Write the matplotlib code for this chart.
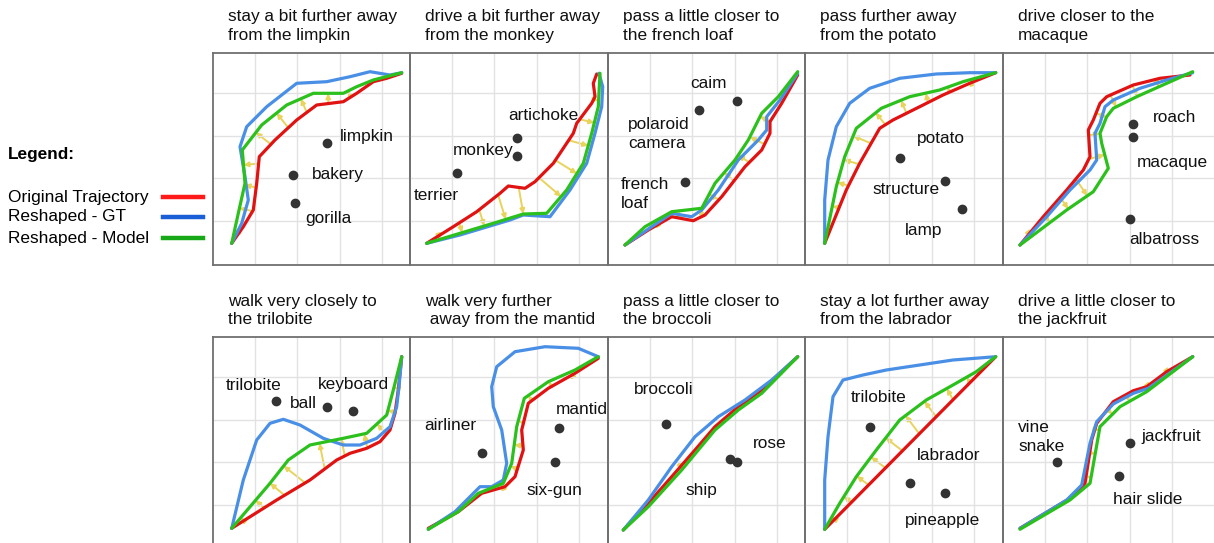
import numpy as np
import matplotlib.pyplot as plt
from matplotlib.lines import Line2D

plt.rcParams['font.family'] = ['Liberation Sans', 'DejaVu Sans']

# panel titles (row by row)
titles = [
    'stay a bit further away\nfrom the limpkin',
    'drive a bit further away\nfrom the monkey',
    'pass a little closer to\nthe french loaf',
    'pass further away\nfrom the potato',
    'drive closer to the\nmacaque',
    'walk very closely to\nthe trilobite',
    'walk very further\n away from the mantid',
    'pass a little closer to\nthe broccoli',
    'stay a lot further away\nfrom the labrador',
    'drive a little closer to\nthe jackfruit',
]

# trajectories, panel-local units (x right, y up)
red_paths = [
    [(18.7, 21.7), (30.3, 38.3), (40.3, 55), (43.7, 81.7), (46.3, 108.3), (62, 125), (83.7, 145),
     (103.7, 160), (130.3, 163.3), (143.7, 171.7), (160.3, 183.3), (173.7, 186.7), (188.7, 191.7)],
    [(16.7, 21.7), (43.3, 38.3), (66.7, 53.3), (90, 71.7), (98.3, 79), (115, 76.7), (125, 83.3),
     (143.3, 101.7), (163.3, 131.7), (166.7, 141.7), (181.7, 161.7), (185, 168.3), (183.3, 181.7), (186.7, 191)],
    [(17, 20), (40.3, 35), (63.7, 48.3), (85.3, 44.3), (97, 50), (113.7, 68.3), (137, 98.3),
     (153.7, 115), (162, 131.7), (162, 143.3), (173.7, 161.7), (189.7, 190)],
    [(19.7, 21.7), (41.3, 75), (54.7, 101.7), (74.7, 136.7), (88, 145), (114.7, 158.3), (138, 170),
     (164.7, 181.7), (190.7, 192.3)],
    [(17, 20), (40.3, 48.3), (63.7, 75), (80.3, 95), (87, 108.3), (85.3, 135), (90.3, 145), (97, 161.7),
     (103.7, 168.3), (130.3, 180), (157, 186.7), (187, 190)],
    [(18.7, 20.7), (63.7, 49), (97, 69), (123.7, 89), (137, 95.7), (153.7, 100.7), (167, 107.3),
     (177, 119), (182, 135.7), (185.3, 159), (188.7, 192.3)],
    [(18.3, 20.7), (48.3, 37.3), (71.7, 55.7), (95, 62.3), (105, 72.3), (113.3, 99), (111.7, 119),
     (118.3, 145.7), (138.3, 160.7), (165, 175.7), (188.3, 190.7)],
    [(15.3, 19), (40.3, 45.7), (63.7, 72.3), (87, 99), (107, 122.3), (130.3, 142.3), (153.7, 159), (189.7, 192.3)],
    [(19.7, 19.7), (190.7, 192.3)],
    [(17, 20.7), (67, 50.7), (82, 65.7), (88.7, 109), (93.7, 125.7), (110.3, 147.3), (130.3, 158.3),
     (143.7, 162.3), (163.7, 177.3), (189.7, 192.3)],
]

gt_paths = [
    [(18.7, 21.7), (28.7, 41.7), (35.3, 65), (32, 88.3), (27, 118.3), (33.7, 138.3), (53.7, 158.3),
     (83.7, 181.7), (113.7, 183.3), (137, 188.3), (157, 193.3), (177, 190), (188.7, 192.3)],
    [(16.7, 21.7), (50, 30), (100, 45), (113.3, 50), (140, 48.3), (160, 75), (176.7, 101.7), (185, 131.7),
     (191.7, 158.3), (192.7, 178.3), (189, 191.7)],
    [(17, 20), (43.7, 38.3), (63.7, 51.7), (83.7, 48.3), (93.7, 55), (110.3, 75), (130.3, 105), (150.3, 125),
     (158.7, 135), (158.7, 148.3), (172, 165), (189.7, 191.7)],
    [(19.7, 21.7), (19.7, 65), (23, 105), (31.3, 138.3), (44.7, 161.7), (64.7, 176.7), (94.7, 186.7),
     (131.3, 191), (164.7, 192.3), (190.7, 192.3)],
    [(17, 20), (43.7, 48.3), (67, 75), (87, 95), (93.7, 105), (92, 131.7), (97, 141.7), (102, 158.3),
     (110.3, 165), (137, 176.7), (163.7, 185), (189.7, 192.3)],
    [(18.7, 20.7), (30.3, 69), (43.7, 109), (57, 125.7), (70.3, 129.7), (87, 124), (110.3, 110.7),
     (130.3, 104), (147, 104), (163.7, 110.7), (177, 122.3), (183.7, 142.3), (186.3, 165.7), (188.7, 192.3)],
    [(18.3, 19.7), (45, 37.3), (70, 62.3), (81.7, 62.3), (93.3, 69), (96.7, 85.7), (91.7, 119), (83.3, 142.3),
     (81.7, 162.3), (86.7, 182.3), (105, 197.3), (135, 202.3), (168.3, 200.7), (188.3, 192.3)],
    [(15.3, 19), (40.3, 49), (63.7, 82.3), (87, 112.3), (110.3, 132.3), (137, 149), (163.7, 169), (189.7, 192.3)],
    [(19.7, 19.7), (19.7, 69), (23, 112.3), (28, 152.3), (38, 169), (58, 174), (81.3, 179), (114.7, 184),
     (148, 189), (190.7, 192.3)],
    [(17, 20.7), (63.7, 49), (78.7, 64), (87, 105.7), (93.7, 127.3), (110.3, 145), (130.3, 155.7),
     (145.3, 160.7), (189.7, 192.3)],
]

model_paths = [
    [(18.7, 21.7), (25.3, 51.7), (32, 81.7), (29.3, 115), (48.7, 140), (73.7, 160), (100.3, 171.7),
     (130.3, 171.7), (143.7, 178.3), (160.3, 185), (188.7, 192.3)],
    [(16.7, 21.7), (50, 31.7), (83.3, 41.7), (113.3, 51), (136.7, 51.7), (156.7, 75), (173.3, 101.7),
     (181.7, 131.7), (188.3, 158.3), (190, 191.7)],
    [(17, 20), (37, 38.3), (63.7, 53.3), (93.7, 56.7), (107, 81.7), (127, 105), (140.3, 125), (153.7, 151.7),
     (170.3, 168.3), (189.7, 193.3)],
    [(19.7, 21.7), (31.3, 78.3), (39.7, 108.3), (51.3, 136.7), (76.3, 156.7), (104.7, 168.3), (134.7, 175),
     (158, 183.3), (190.7, 192.3)],
    [(17, 20), (63.7, 55), (90.3, 73.3), (105.3, 96.7), (98.7, 121.7), (97, 131.7), (103.7, 148.3),
     (110.3, 156.7), (133.7, 168.3), (163.7, 181.7), (189.7, 193.3)],
    [(18.7, 20.7), (57, 65.7), (75.3, 89), (97, 104), (130.3, 110.7), (153.7, 115.7), (173.7, 134),
     (180.3, 159), (188.7, 192.3)],
    [(18.3, 19.7), (48.3, 37.3), (68.3, 55.7), (93.3, 65.7), (101.7, 85.7), (106.7, 122.3), (114.3, 150.7),
     (138.3, 167.3), (165, 179), (188.3, 192.3)],
    [(15.3, 19), (40.3, 42.3), (73.7, 79), (90.3, 99), (107, 119), (130.3, 139), (153.7, 155.7), (189.7, 192.3)],
    [(19.7, 19.7), (34.7, 45.7), (51.3, 72.3), (71.3, 99), (94.7, 129), (121.3, 149), (148, 164),
     (171.3, 177.3), (190.7, 192.3)],
    [(17, 19.7), (67, 49), (87, 65.7), (97, 122.3), (117, 142.3), (143.7, 157.3), (189.7, 192.3)],
]

# landmark objects (dots) and their names
landmarks = [
    [(113.7, 121.7), (80.3, 90), (82, 62.3)],
    [(46.7, 92.3), (106.7, 126.7), (106.7, 109)],
    [(91.3, 155), (128.7, 164), (77, 83.3)],
    [(95.3, 107.3), (140.3, 84), (157, 55.7)],
    [(129.7, 141), (129.7, 127.7), (127, 45.7)],
    [(62.7, 148.3), (113.7, 141.7), (140.3, 138.3)],
    [(71.7, 96.3), (149.3, 120.7), (145, 87.3)],
    [(58, 125), (122, 89.7), (129.3, 87.3)],
    [(64.7, 122.3), (105.3, 65.7), (140.3, 55.7)],
    [(53.7, 87.3), (127, 106.3), (116, 73)],
]

names = [
    ['limpkin', 'bakery', 'gorilla'],
    ['artichoke', 'monkey', 'terrier'],
    ['caim', 'polaroid\ncamera', 'french\nloaf'],
    ['potato', 'structure', 'lamp'],
    ['roach', 'macaque', 'albatross'],
    ['trilobite', 'ball', 'keyboard'],
    ['airliner', 'mantid', 'six-gun'],
    ['broccoli', 'rose', 'ship'],
    ['trilobite', 'labrador', 'pineapple'],
    ['vine\nsnake', 'jackfruit', 'hair slide'],
]

# where the names are written (left edge, vertical centre)
name_xy = [
    [(127, 128), (99, 91), (92, 46)],
    [(98, 149), (43, 114), (4, 69)],
    [(82, 182), (20, 131), (13, 71)],
    [(112, 127), (67, 75), (100, 35)],
    [(150, 148), (134, 102), (126, 25)],
    [(13, 164), (77, 145), (105, 164)],
    [(14, 123), (146, 140), (116, 58)],
    [(26, 159), (145, 106), (77, 58)],
    [(46, 152), (112, 94), (100, 28)],
    [(15, 112), (138, 112), (110, 50)],
]

W, H = 1214, 543
col_left = [213, 410, 608, 805, 1003]
col_width = [197, 198, 197, 198, 211]
row_bottom = [265, 549]
row_title_y = [26, 310.5]
ph = 212

RED, BLUE, GREEN, YEL = '#e01212', '#4a8fe6', '#2cc01c', '#e8d35c'
FS = 12.4
LS = 1.26


def nearest(path, p):
    best, bq = 1e9, None
    for a, b in zip(path[:-1], path[1:]):
        ab = b - a
        t = np.clip(np.dot(p - a, ab) / np.dot(ab, ab), 0, 1)
        q = a + t * ab
        d = np.linalg.norm(p - q)
        if d < best:
            best, bq = d, q
    return bq, best


def along(path, step):
    seg = np.linalg.norm(np.diff(path, axis=0), axis=1)
    cum = np.concatenate([[0], np.cumsum(seg)])
    out = []
    s = step * 0.6
    while s < cum[-1] - step * 0.4:
        k = np.searchsorted(cum, s) - 1
        t = (s - cum[k]) / seg[k]
        out.append(path[k] + t * (path[k + 1] - path[k]))
        s += step
    return out


fig = plt.figure(figsize=(W / 100, H / 100), dpi=100)

for i in range(10):
    r, c = divmod(i, 5)
    l, w, b = col_left[c], col_width[c], row_bottom[r]
    ax = fig.add_axes([l / W, (H - b) / H, w / W, ph / H])
    ax.patch.set_alpha(0)
    ax.set_xlim(0, w)
    ax.set_ylim(0, ph)
    ax.set_xticks([42, 84.3, 126.6, 168.9])
    ax.set_yticks([44, 86.6, 129.2, 171.8])
    ax.grid(True, color='#e2e2e2', lw=1)
    ax.tick_params(length=0, labelleft=False, labelbottom=False)
    for s in ax.spines.values():
        s.set_color('#707070')
        s.set_linewidth(1.3)
    if c == 4:
        ax.spines['right'].set_visible(False)

    red = np.array(red_paths[i], float)
    gt = np.array(gt_paths[i], float)
    mod = np.array(model_paths[i], float)

    # correction arrows: original -> model
    for p in along(red, 24):
        q, d = nearest(mod, p)
        if d > 3:
            ax.annotate('', xy=q, xytext=p, zorder=1,
                        arrowprops=dict(arrowstyle='-|>', color=YEL, lw=1.4,
                                        mutation_scale=7, shrinkA=0, shrinkB=0))
    ax.plot(red[:, 0], red[:, 1], color=RED, lw=2.3, zorder=2, solid_capstyle='round')
    ax.plot(gt[:, 0], gt[:, 1], color=BLUE, lw=2.3, zorder=3, solid_capstyle='round')
    ax.plot(mod[:, 0], mod[:, 1], color=GREEN, lw=2.3, zorder=4, solid_capstyle='round')

    lm = np.array(landmarks[i])
    ax.plot(lm[:, 0], lm[:, 1], 'o', color='#333333', ms=6, zorder=5)
    for txt, (x, y) in zip(names[i], name_xy[i]):
        ax.text(x, y, txt, fontsize=FS, ha='left', va='center', color='#111111',
                linespacing=LS, clip_on=False, zorder=6)

    fig.text((l + 15) / W, 1 - row_title_y[r] / H, titles[i], fontsize=FS,
             ha='left', va='center', linespacing=LS, color='#111111')

# legend
fig.text(8 / W, 1 - 155 / H, 'Legend:', fontsize=FS, weight='bold', va='center')
leg_labels = ['Original Trajectory', 'Reshaped - GT', 'Reshaped - Model']
leg_colors = ['#ff1a1a', '#1a5fd6', '#17a817']
leg_y = [197, 217, 238]
for lab, col, y in zip(leg_labels, leg_colors, leg_y):
    fig.text(8 / W, 1 - y / H, lab, fontsize=FS, va='center')
    fig.add_artist(Line2D([163 / W, 203 / W], [1 - y / H] * 2, color=col, lw=3.2))

fig.savefig('out.png', dpi=100)
